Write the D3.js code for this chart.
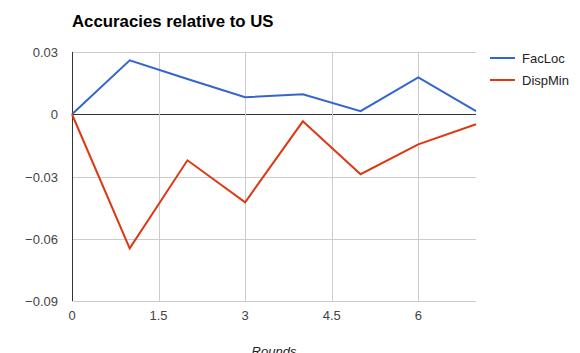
<!DOCTYPE html>
<html>
<head>
<meta charset="utf-8">
<script src="https://cdn.jsdelivr.net/npm/d3@7"></script>
<style>
  body { margin: 0; background: #fff; }
  text { font-family: Arial, "Liberation Sans", sans-serif; }
</style>
</head>
<body>
<div id="vis"></div>
<script>
/* data */
let rounds = [0, 1, 2, 3, 4, 5, 6, 7];
let facLoc = [0, 0.026, 0.017, 0.0082, 0.0096, 0.0015, 0.0178, 0.0015];
let dispMin = [0, -0.0646, -0.0222, -0.0424, -0.0034, -0.0289, -0.0145, -0.0048];
let xTicks = [0, 1.5, 3, 4.5, 6];
let yTicks = [0.03, 0, -0.03, -0.06, -0.09];
let seriesNames = ["FacLoc", "DispMin"];
let seriesColors = ["#3366cc", "#dc3912"];

/* geometry */
let width = 580, height = 353;
let boundsX = [72, 476];
let boundsY = [52, 301];

let x = d3.scaleLinear().domain([0, 7]).range(boundsX);
let y = d3.scaleLinear().domain([-0.09, 0.03]).range([boundsY[1], boundsY[0]]);

let svg = d3.select("#vis").append("svg")
  .attr("width", width)
  .attr("height", height);

/* title */
svg.append("text")
  .attr("x", 72).attr("y", 27)
  .attr("font-size", 16.8).attr("font-weight", "bold")
  .attr("fill", "#000")
  .text("Accuracies relative to US");

/* gridlines */
let grid = svg.append("g");
grid.selectAll(".gy").data(yTicks).enter().append("line")
  .attr("x1", boundsX[0]).attr("x2", boundsX[1])
  .attr("y1", d => Math.round(y(d)) + .5).attr("y2", d => Math.round(y(d)) + .5)
  .attr("stroke", d => d === 0 ? "#333" : "#ccc");
grid.selectAll(".gx").data(xTicks.filter(d => d > 0)).enter().append("line")
  .attr("x1", d => Math.round(x(d)) + .5).attr("x2", d => Math.round(x(d)) + .5)
  .attr("y1", boundsY[0]).attr("y2", boundsY[1])
  .attr("stroke", "#ccc");
grid.append("line")
  .attr("x1", boundsX[0] + .5).attr("x2", boundsX[0] + .5)
  .attr("y1", boundsY[0]).attr("y2", boundsY[1])
  .attr("stroke", "#333");

/* axis labels */
svg.append("g").selectAll("text").data(yTicks).enter().append("text")
  .attr("x", 58).attr("y", d => y(d) + 5)
  .attr("text-anchor", "end").attr("font-size", 13).attr("fill", "#444")
  .text(d => d3.format("")(d));
svg.append("g").selectAll("text").data(xTicks).enter().append("text")
  .attr("x", d => x(d)).attr("y", 320)
  .attr("text-anchor", "middle").attr("font-size", 13).attr("fill", "#444")
  .text(d => d);
svg.append("text")
  .attr("x", x(3.5)).attr("y", 356)
  .attr("text-anchor", "middle").attr("font-size", 13)
  .attr("font-style", "italic").attr("fill", "#222")
  .text("Rounds");

/* lines */
let line = d3.line().x((d, i) => x(rounds[i])).y(d => y(d));
[facLoc, dispMin].forEach((s, i) => {
  svg.append("path")
    .attr("d", line(s))
    .attr("fill", "none")
    .attr("stroke", seriesColors[i])
    .attr("stroke-width", 2);
});

/* legend */
let leg = svg.append("g");
seriesNames.forEach((n, i) => {
  let ly = 58 + i * 22;
  leg.append("line")
    .attr("x1", 490).attr("x2", 515)
    .attr("y1", ly).attr("y2", ly)
    .attr("stroke", seriesColors[i]).attr("stroke-width", 2);
  leg.append("text")
    .attr("x", 522).attr("y", ly + 5)
    .attr("font-size", 13).attr("fill", "#222")
    .text(n);
});
</script>
</body>
</html>
